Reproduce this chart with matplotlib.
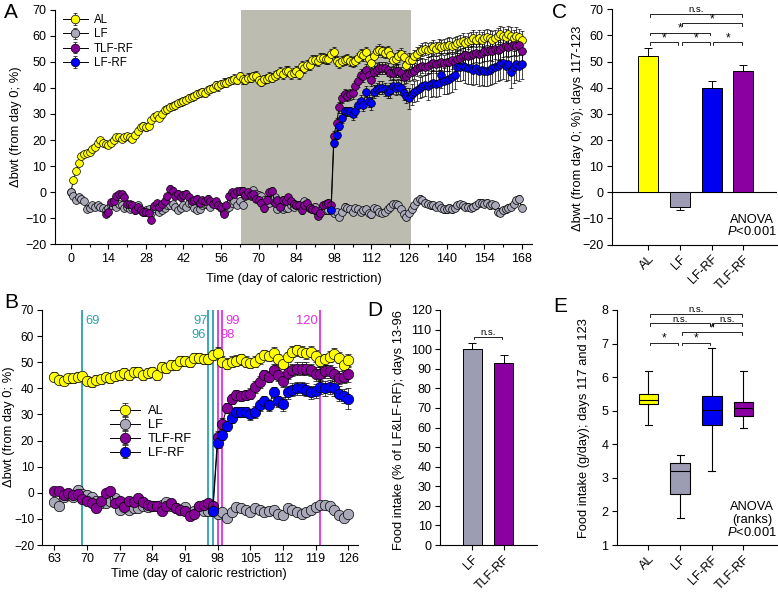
import numpy as np
import matplotlib
matplotlib.use("Agg")
import matplotlib.pyplot as plt
from matplotlib.ticker import MultipleLocator

plt.rcParams['font.family'] = ['Liberation Sans', 'DejaVu Sans']
plt.rcParams['mathtext.fontset'] = 'custom'
plt.rcParams['mathtext.it'] = 'Liberation Sans:italic'
plt.rcParams['mathtext.rm'] = 'Liberation Sans'

# ---------------- data: body weight change (%), daily ----------------
al_d0_62 = [0, 4.5, 8, 11, 14, 14.5, 15, 15.5, 16.5, 17.5,
            19, 20, 19, 18.5, 18, 19, 20, 21, 21, 20.5,
            21, 21.5, 21, 20.5, 22, 23.5, 25, 25.5, 25, 25.5,
            27.5, 29, 29.5, 28.5, 30, 31.5, 32, 32.5, 33, 33.5,
            34, 34.5, 35, 35.5, 36, 36.5, 37, 37.5, 38, 38.5,
            38, 39, 39.5, 40, 41, 40.5, 41.5, 42, 42, 42.5,
            43, 43.5, 43]
al_d63_126 = [44.5, 43.3, 43, 43.9, 43.9, 44.5, 44.7, 43, 42.3, 43.3,
              43.5, 44.3, 43.9, 44.7, 45.1, 46, 45.1, 46.4, 46.4, 45.1,
              45.8, 46.4, 45.1, 48.3, 47.7, 48.9, 48.9, 50.6, 50.6, 50.2,
              51.5, 51.5, 51.1, 51.1, 52.8, 53.7, 50.2, 49.5, 50.2, 50.6,
              51.1, 50.2, 49.8, 50.2, 51.5, 52.8, 52.4, 53.7, 51.1, 49.5,
              52, 54, 54.6, 54, 53.4, 54, 52.4, 50.6, 51.1, 52.1,
              53.1, 51.8, 48.9, 50.8]
al_d127_168 = [50.5, 52, 53, 54, 54.5, 55, 54.5, 55, 55.5, 55,
               56, 55.5, 56, 56, 56.5, 56, 56.5, 57, 57.5, 58,
               57, 58, 58.5, 59, 58.5, 59, 58.5, 59, 59.5, 59,
               58.5, 59, 60, 60.5, 60, 59.5, 60.5, 60, 59, 60,
               59.5, 58.5]

lf_d0_62 = [0, -1.5, -3, -2, -2.5, -3.5, -6.5, -6, -5, -5.5,
            -5, -5.5, -6, -7, -6, -5, -4, -5.5, -4.5, -5,
            -6, -5.5, -6.5, -6, -5.5, -5, -7, -7.5, -7, -6.5,
            -8, -6, -5, -7.5, -7, -6, -5, -5, -4.5, -5.5,
            -7, -6, -5, -5.5, -4, -4.5, -6, -7, -6.5, -5,
            -4.5, -5, -5.5, -4, -4.5, -5, -6, -7.5, -6.5, -5.5,
            -4, -3.5, -5]
lf_d63_126 = [-3.5, -5, -1.5, -1, -1.5, 1, -0.5, -1, -1.5, -3,
              -4, -4, -3, -2, -6.5, -4.5, -6.5, -6, -6, -5,
              -5.5, -5, -5, -4.5, -3.5, -5, -6, -6.5, -5.5, -8,
              -7, -5.5, -7, -7, -7, -8, -7.5, -9.5, -7.5, -5.5,
              -6, -6.5, -7.5, -6, -6.5, -7.5, -7, -6.5, -8, -8.5,
              -6, -6.5, -7.5, -8, -7.5, -6.5, -5.5, -4.5, -4.5, -5,
              -6.5, -8.5, -9.5, -8]
lf_d127_168 = [-6.5, -5, -3.5, -2.5, -3, -4, -4.5, -5, -5, -5.5,
               -5, -6, -6.5, -6.5, -6, -6.5, -6, -5, -4.5, -5,
               -5.5, -5.5, -6, -5.5, -5, -4, -4, -4.5, -4, -5,
               -4.5, -5, -7.5, -8, -7, -6.5, -6, -5.5, -4.5, -3,
               -2.5, -6]

tlf_d13_62 = [-8.3, -7.7, -3.8, -3.2, -1.5, -0.6, -0.6, -1.9, -4.5, -4.7,
              -5, -7, -5.5, -6.8, -7.5, -7.7, -8, -10.5, -5.1, -4.2,
              -5.8, -4.7, -3.2, -1.5, 1.3, 0.6, -1.3, -0.6, -1.9, -1,
              -0.5, -2, -3.5, -3, -2.5, -4, -3, -3.5, -2.5, -3.5,
              -4.5, -3.5, -5, -5.5, -8.3, -5, -1.5, 0, -0.5, 0.5]
tlf_d63_126 = [0.5, 0.5, -1, 0, -1, -0.5, -2.5, -3, -4, -6,
               -3, 0, 0.5, -4, -3, -5.5, -3, -3.5, -2, -3.5,
               -4.5, -5, -5, -7, -5, -4, -6, -6.5, -7, -9,
               -8, -5, -4.5, -4, -5, 21.5, 26.5, 32.5, 36, 37.5,
               37, 37.5, 38, 40.5, 42.5, 45, 44.5, 47, 45, 43,
               46, 47, 47.5, 47.5, 47.5, 47, 45.5, 45.5, 46.5, 46.5,
               45.5, 44, 44.5, 45.5]
tlf_d127_168 = [46, 46.5, 47.5, 48, 48.5, 48, 48.5, 49, 49.5, 49,
                49.5, 50, 49.5, 50, 50, 50.5, 50, 51, 51.5, 52,
                52.5, 52, 52.5, 53, 53.5, 53, 53.5, 54, 54, 54.5,
                54, 55, 54.5, 55, 55.5, 56, 55.5, 56, 56.5, 56,
                56.5, 54]

lfrf_d97_126 = [-7, 19, 22, 25.5, 28.5, 31, 31, 31, 30, 31,
                33.5, 35, 33.5, 38.5, 35, 34, 38.5, 39.5, 40, 40,
                39.5, 38.5, 39, 40.5, 40, 40.5, 40, 38, 37, 36]
lfrf_d127_168 = [37.5, 38.5, 39, 40, 40.5, 41, 40.5, 41.5, 42, 41.5,
                 42, 45, 42.5, 43, 43.5, 44, 45, 48, 48, 48.5,
                 48, 47.5, 47.5, 47, 47.5, 46.5, 47, 46.5, 46.5, 47,
                 47.5, 48, 48.5, 49, 49.5, 48.5, 49, 46, 48, 49,
                 48.5, 49]

# SEM per week (index = day // 7)
al_sem_week = [0.5, 1.0, 1.2, 1.3, 1.4, 1.5, 1.5, 1.6, 1.6, 1.7, 1.7, 1.8, 1.9,
               1.9, 2.0, 2.0, 2.1, 2.2, 2.5, 2.7, 2.9, 3.0, 3.1, 3.2, 3.2]
lf_sem_week = [0.4, 0.8, 0.9, 1.0, 1.0, 1.0, 1.0, 1.0, 1.1, 1.1, 1.1, 1.1, 1.2,
               1.2, 1.2, 1.2, 1.2, 1.2, 1.3, 1.3, 1.3, 1.3, 1.3, 1.3, 1.3]
tlf_sem_week = [1.0, 1.0, 1.2, 1.3, 1.3, 1.3, 1.3, 1.3, 1.3, 1.4, 1.4, 1.4, 1.4,
                1.4, 2.0, 2.2, 2.4, 2.5, 3.0, 3.2, 3.4, 3.6, 3.8, 3.8, 3.8]
lfrf_sem_week = [0, 0, 0, 0, 0, 0, 0, 0, 0, 0, 0, 0, 0,
                 1.0, 1.8, 2.2, 2.5, 2.8, 4.0, 5.0, 5.5, 6.0, 6.0, 6.0, 5.5]

series_names = ["AL", "LF", "TLF-RF", "LF-RF"]
shade_days = [63.4, 126.6]
b_range = [63, 126]
b_marks_teal = [69, 96, 97]
b_marks_magenta = [98, 99, 120]

# Panel C: bwt change days 117-123
c_groups = ["AL", "LF", "LF-RF", "TLF-RF"]
c_mean = [52.2, -5.7, 40.0, 46.4]
c_sem = [2.9, 1.1, 2.7, 2.3]

# Panel D: food intake days 13-96
d_groups = ["LF", "TLF-RF"]
d_mean = [100.0, 92.8]
d_sem = [2.9, 4.2]

# Panel E: food intake box plots
e_groups = ["AL", "LF", "LF-RF", "TLF-RF"]
e_whislo = [4.57, 1.79, 3.19, 4.50]
e_q1 = [5.20, 2.52, 4.57, 4.84]
e_med = [5.32, 3.19, 5.02, 5.07]
e_q3 = [5.51, 3.44, 5.45, 5.25]
e_whishi = [6.19, 3.68, 6.86, 6.19]

# ---------------- assemble series ----------------
def seg(start, *parts):
    vals = np.concatenate([np.asarray(p, float) for p in parts])
    return np.arange(start, start + len(vals)), vals

al_days, al_v = seg(0, al_d0_62, al_d63_126, al_d127_168)
lf_days, lf_v = seg(0, lf_d0_62, lf_d63_126, lf_d127_168)
tlf_days, tlf_v = seg(13, tlf_d13_62, tlf_d63_126, tlf_d127_168)
lfrf_days, lfrf_v = seg(97, lfrf_d97_126, lfrf_d127_168)

def sem_of(days, weekly):
    return np.asarray(weekly)[np.clip(days // 7, 0, len(weekly) - 1)]

COL = {"AL": "#ffff00", "LF": "#a9a9ba", "TLF-RF": "#850095", "LF-RF": "#0000ff"}
BARCOL = {"AL": "#ffff00", "LF": "#9c9cb4", "LF-RF": "#0000f0", "TLF-RF": "#8a00a0"}
series = [
    ("AL", al_days, al_v, sem_of(al_days, al_sem_week)),
    ("LF", lf_days, lf_v, sem_of(lf_days, lf_sem_week)),
    ("TLF-RF", tlf_days, tlf_v, sem_of(tlf_days, tlf_sem_week)),
    ("LF-RF", lfrf_days, lfrf_v, sem_of(lfrf_days, lfrf_sem_week)),
]

FS = 9        # tick labels
LFS = 9.3     # axis labels / annotations
W, H = 778, 592
fig = plt.figure(figsize=(W / 100, H / 100), dpi=100)

def axes_px(l, t, r, b):
    return fig.add_axes([l / W, 1 - b / H, (r - l) / W, (b - t) / H])

def style(ax):
    for s in ("top", "right"):
        ax.spines[s].set_visible(False)
    for s in ("left", "bottom"):
        ax.spines[s].set_linewidth(0.8)
    ax.tick_params(direction="out", length=3.5, width=0.8, labelsize=FS, pad=2.5)

def draw(ax, days, vals, sem, color, ms, cs, label):
    return ax.errorbar(days, vals, yerr=sem, fmt="o-", color="black", lw=0.7,
                       ms=ms, mfc=color, mec="black", mew=0.5, ecolor="black",
                       elinewidth=0.5, capsize=cs, capthick=0.5, label=label)

# ---------------- Panel A ----------------
axA = axes_px(54.6, 9.5, 532, 244.4)
style(axA)
axA.axvspan(shade_days[0], shade_days[1], color="#bcbcb0", zorder=0, lw=0)
handles = {}
for name, d, v, s in series:
    handles[name] = draw(axA, d, v, s, COL[name], 5.6, 1.5, name)
axA.set_xlim(-6, 171.8)
axA.set_ylim(-20, 70)
axA.xaxis.set_major_locator(MultipleLocator(14))
axA.xaxis.set_minor_locator(MultipleLocator(7))
axA.tick_params(which="minor", direction="out", length=2, width=0.8)
axA.yaxis.set_major_locator(MultipleLocator(10))
axA.legend([handles[n] for n in series_names], series_names, loc="upper left",
           bbox_to_anchor=(0.0, 1.015), frameon=False, fontsize=8.3,
           handlelength=2.2, handletextpad=0.5, labelspacing=0.2, borderpad=0.2,
           markerscale=1.1)
fig.text(294 / W, 1 - 279 / H, "Time (day of caloric restriction)", ha="center",
         va="center", fontsize=LFS)
fig.text(16 / W, 1 - 127 / H, "Δbwt (from day 0; %)", rotation=90, ha="center",
         va="center", fontsize=LFS)
fig.text(4 / W, 1 - 13 / H, "A", fontsize=15, va="center", ha="left")

# ---------------- Panel B ----------------
axB = axes_px(41.7, 310, 358, 545)
style(axB)
axB.tick_params(axis="y", labelsize=8.6, pad=2)
for x in b_marks_teal:
    axB.axvline(x, color="#2aa3aa", lw=1.3, zorder=1)
for x in b_marks_magenta:
    axB.axvline(x, color="#e030e0", lw=1.3, zorder=1)
hb = {}
for name, d, v, s in series:
    m = (d >= b_range[0]) & (d <= b_range[1])
    hb[name] = draw(axB, d[m], v[m], s[m], COL[name], 7.5, 2.3, name)
axB.set_xlim(60.3, 128.1)
axB.set_ylim(-20, 70)
axB.xaxis.set_major_locator(MultipleLocator(7))
axB.yaxis.set_major_locator(MultipleLocator(10))
tk = dict(fontsize=LFS, va="center")
axB.text(69.6, 65.9, "69", color="#2aa3aa", ha="left", **tk)
axB.text(95.8, 65.9, "97", color="#2aa3aa", ha="right", **tk)
axB.text(95.5, 60.4, "96", color="#2aa3aa", ha="right", **tk)
axB.text(99.6, 65.9, "99", color="#e030e0", ha="left", **tk)
axB.text(98.5, 60.4, "98", color="#e030e0", ha="left", **tk)
axB.text(119.4, 65.9, "120", color="#e030e0", ha="right", **tk)
axB.legend([hb[n] for n in series_names], series_names, loc="upper left",
           bbox_to_anchor=(73.6, 36.0), bbox_transform=axB.transData,
           frameon=False, fontsize=LFS, handlelength=2.3, handletextpad=0.6,
           labelspacing=0.15, borderpad=0.0)
fig.text(199 / W, 1 - 574 / H, "Time (day of caloric restriction)", ha="center",
         va="center", fontsize=LFS)
fig.text(9.5 / W, 1 - 427 / H, "Δbwt (from day 0; %)", rotation=90, ha="center",
         va="center", fontsize=LFS)
fig.text(4 / W, 1 - 303 / H, "B", fontsize=15, va="center", ha="left")

# ---------------- brackets helper ----------------
def bracket(ax, x1, x2, y, drop, label, fs, dy, inset=0.05):
    ax.plot([x1 + inset, x1 + inset, x2 - inset, x2 - inset],
            [y - drop, y, y, y - drop], color="black", lw=0.6, clip_on=False)
    ax.text((x1 + x2) / 2, y + dy, label, ha="center", va="center", fontsize=fs,
            clip_on=False)

# ---------------- Panel C ----------------
axC = axes_px(611.7, 9.3, 776.7, 244.6)
style(axC)
xc = np.arange(len(c_groups))
low = [s if m < 0 else 0 for m, s in zip(c_mean, c_sem)]
up = [s if m >= 0 else 0 for m, s in zip(c_mean, c_sem)]
axC.bar(xc, c_mean, width=0.63, color=[BARCOL[g] for g in c_groups],
        edgecolor="black", lw=0.7, zorder=2)
axC.errorbar(xc, c_mean, yerr=[low, up], fmt="none", ecolor="black",
             elinewidth=0.7, capsize=3, capthick=0.7, zorder=3)
axC.axhline(0, color="black", lw=0.8, zorder=1)
axC.set_xlim(-1.155, 4.05)
axC.set_ylim(-20, 70)
axC.yaxis.set_major_locator(MultipleLocator(10))
axC.set_xticks(xc)
axC.set_xticklabels(c_groups, rotation=45, ha="right", rotation_mode="anchor")
for (a, b, y, lab) in [(0, 3, 68.2, "n.s."), (1, 3, 64.7, "*"), (0, 2, 61.1, "*"),
                       (0, 1, 57.4, "*"), (1, 2, 57.4, "*"), (2, 3, 57.4, "*")]:
    bracket(axC, a, b, y, 1.0, lab, 6.8 if lab == "n.s." else 8.5,
            1.7 if lab == "n.s." else 1.4)
axC.text(3.27, -10.6, "ANOVA", ha="center", va="center", fontsize=LFS)
axC.text(3.27, -15.0, "$\\mathit{P}$<0.001", ha="center", va="center", fontsize=LFS)
fig.text(578 / W, 1 - 128 / H, "Δbwt (from day 0; %); days 117-123", rotation=90,
         ha="center", va="center", fontsize=LFS)
fig.text(552 / W, 1 - 13 / H, "C", fontsize=15, va="center", ha="left")

# ---------------- Panel D ----------------
axD = axes_px(440, 310, 536.7, 545)
style(axD)
xd = np.arange(len(d_groups))
axD.bar(xd, d_mean, width=0.6, color=[BARCOL[g] for g in d_groups],
        edgecolor="black", lw=0.7, zorder=2)
axD.errorbar(xd, d_mean, yerr=[[0] * len(d_sem), d_sem], fmt="none", ecolor="black",
             elinewidth=0.7, capsize=3, capthick=0.7, zorder=3)
axD.set_xlim(-1.02, 2.04)
axD.set_ylim(0, 120)
axD.yaxis.set_major_locator(MultipleLocator(10))
axD.set_xticks(xd)
axD.set_xticklabels(d_groups, rotation=45, ha="right", rotation_mode="anchor")
bracket(axD, 0, 1, 106.4, 1.4, "n.s.", 6.8, 2.3)
fig.text(399 / W, 1 - 430 / H, "Food intake (% of LF&LF-RF); days 13-96", rotation=90,
         ha="center", va="center", fontsize=LFS)
fig.text(367 / W, 1 - 310 / H, "D", fontsize=15, va="center", ha="left")

# ---------------- Panel E ----------------
axE = axes_px(616.7, 310, 776.7, 545)
style(axE)
stats = [dict(med=m, q1=a, q3=b, whislo=lo, whishi=hi, label=g)
         for g, lo, a, m, b, hi in zip(e_groups, e_whislo, e_q1, e_med, e_q3, e_whishi)]
bp = axE.bxp(stats, positions=np.arange(len(e_groups)), widths=0.62, showfliers=False,
             patch_artist=True, capwidths=0.22,
             boxprops=dict(edgecolor="black", lw=0.8),
             medianprops=dict(color="black", lw=0.8),
             whiskerprops=dict(color="black", lw=0.8),
             capprops=dict(color="black", lw=0.8))
for patch, g in zip(bp["boxes"], e_groups):
    patch.set_facecolor(BARCOL[g])
axE.set_xlim(-1.0, 4.05)
axE.set_ylim(1, 8)
axE.yaxis.set_major_locator(MultipleLocator(1))
axE.set_xticks(np.arange(len(e_groups)))
axE.set_xticklabels(e_groups, rotation=45, ha="right", rotation_mode="anchor")
for (a, b, y, lab) in [(0, 3, 7.88, "n.s."), (0, 2, 7.6, "n.s."), (2, 3, 7.6, "n.s."),
                       (1, 3, 7.33, "*"), (0, 1, 7.03, "*"), (1, 2, 7.03, "*")]:
    bracket(axE, a, b, y, 0.08, lab, 6.8 if lab == "n.s." else 8.5,
            0.13 if lab == "n.s." else 0.11)
axE.text(3.27, 2.13, "ANOVA", ha="center", va="center", fontsize=LFS)
axE.text(3.27, 1.74, "(ranks)", ha="center", va="center", fontsize=LFS)
axE.text(3.27, 1.38, "$\\mathit{P}$<0.001", ha="center", va="center", fontsize=LFS)
fig.text(584 / W, 1 - 428 / H, "Food intake (g/day); days 117 and 123", rotation=90,
         ha="center", va="center", fontsize=LFS)
fig.text(553 / W, 1 - 307 / H, "E", fontsize=15, va="center", ha="left")

fig.savefig("out.png", dpi=100)
